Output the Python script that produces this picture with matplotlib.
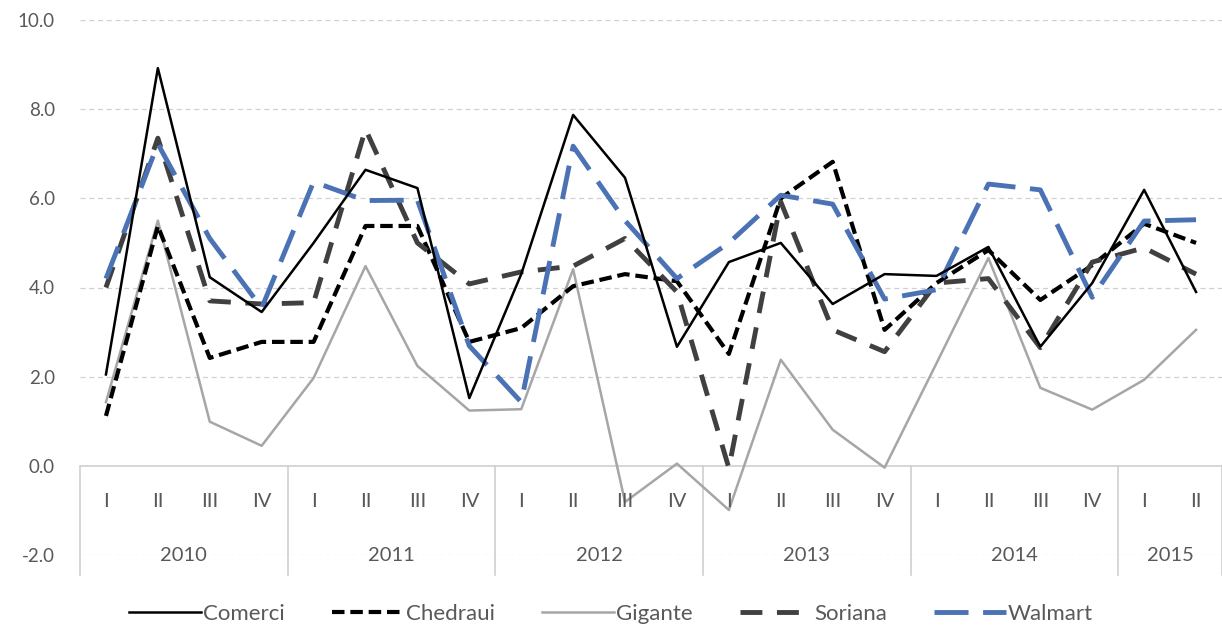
import numpy as np
import matplotlib.pyplot as plt

years = ["2010", "2011", "2012", "2013", "2014", "2015"]
quarters_per_year = [4, 4, 4, 4, 4, 2]
quarter_names = ["I", "II", "III", "IV"]

comerci = [2.05, 8.92, 4.23, 3.45, 5.0, 6.64, 6.23, 1.52, 4.3, 7.87, 6.46, 2.67,
           4.57, 5.0, 3.63, 4.3, 4.26, 4.91, 2.67, 4.1, 6.19, 3.9]
chedraui = [1.12, 5.38, 2.42, 2.78, 2.78, 5.38, 5.38, 2.78, 3.09, 4.03, 4.3, 4.14,
            2.51, 6.0, 6.82, 3.05, 4.1, 4.84, 3.72, 4.5, 5.43, 5.0]
gigante = [1.43, 5.5, 0.99, 0.45, 1.97, 4.48, 2.24, 1.24, 1.27, 4.41, -0.81, 0.05,
           -0.99, 2.38, 0.81, -0.04, 2.3, 4.66, 1.75, 1.26, 1.93, 3.05]
soriana = [4.0, 7.35, 3.7, 3.63, 3.66, 7.55, 5.0, 4.08, 4.35, 4.48, 5.1, 3.9,
           -0.05, 5.92, 3.05, 2.56, 4.1, 4.2, 2.65, 4.57, 4.89, 4.3]
walmart = [4.2, 7.22, 5.1, 3.54, 6.37, 5.95, 5.96, 2.69, 1.43, 7.17, 5.5, 4.2,
           5.0, 6.07, 5.87, 3.74, 3.95, 6.32, 6.19, 3.78, 5.49, 5.52]

plt.rcParams['font.family'] = ['Lato', 'DejaVu Sans']
txt = "#595959"

fig = plt.figure(figsize=(12.22, 6.31), dpi=100)
ax = fig.add_axes([80 / 1222, 1 - 555 / 631, 1 - 80 / 1222, (555 - 20) / 631])

x = np.arange(len(comerci))
ax.plot(x, comerci, color="black", lw=1.8, label="Comerci", zorder=5)
ax.plot(x, chedraui, color="black", lw=3, dashes=(3, 1.4), label="Chedraui", zorder=4)
ax.plot(x, gigante, color="#a6a6a6", lw=1.8, label="Gigante", zorder=3)
ax.plot(x, soriana, color="#404040", lw=3.5, dashes=(4.5, 3), label="Soriana", zorder=4)
ax.plot(x, walmart, color="#4a72b5", lw=3.5, dashes=(7, 3), label="Walmart", zorder=4)

ax.set_xlim(-0.5, len(x) - 0.5)
ax.set_ylim(-2, 10)
ax.set_yticks(np.arange(-2, 10.1, 2))
ax.set_yticklabels([f"{v:.1f}" for v in np.arange(-2, 10.1, 2)])
ax.tick_params(axis="y", length=0, pad=18, labelsize=13.5, labelcolor=txt)
ax.set_xticks([])
for s in ax.spines.values():
    s.set_visible(False)
for v in [-2, 2, 4, 6, 8, 10]:
    ax.axhline(v, color="#d0d0d0", lw=0.9, ls=(0, (4, 3)), zorder=0)
ax.axhline(0, color="#d0d0d0", lw=1.2, zorder=1)

# multi level category axis
pos = 0
ax.plot([-0.5, -0.5], [0, -2.45], color="#d0d0d0", lw=1.2, clip_on=False)
for yr, n in zip(years, quarters_per_year):
    for q in range(n):
        ax.text(pos + q, -0.8, quarter_names[q], ha="center", va="center",
                fontsize=14.5, color=txt)
    ax.text(pos + (n - 1) / 2, -2.02, yr, ha="center", va="center",
            fontsize=14.5, color=txt)
    pos += n
    ax.plot([pos - 0.5, pos - 0.5], [0, -2.45], color="#d0d0d0", lw=1.2, clip_on=False)

fig.legend(loc="lower center", bbox_to_anchor=(0.5, -0.02), ncol=5, frameon=False,
           fontsize=16, labelcolor=txt, handlelength=3.25, handletextpad=0.1,
           columnspacing=2.1)

fig.savefig("out.png", dpi=100)
